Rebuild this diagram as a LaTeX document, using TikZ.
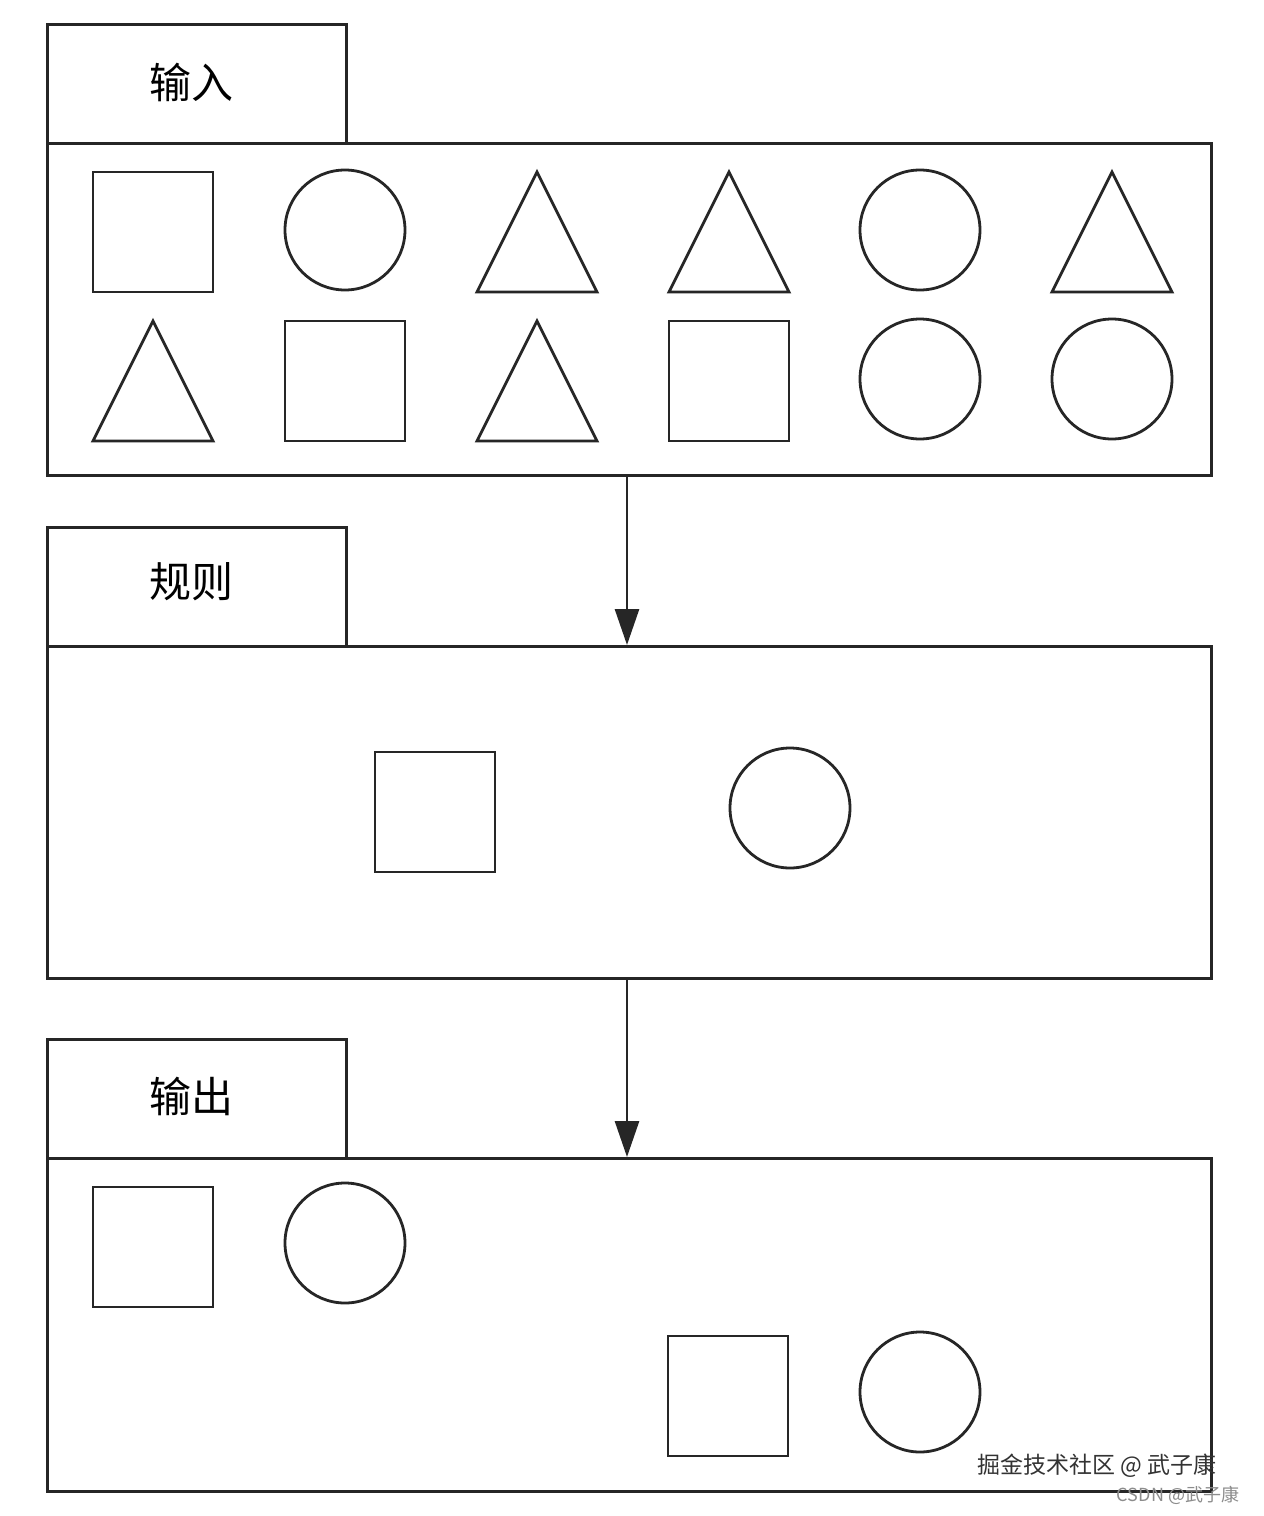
\documentclass[tikz,border=0pt]{standalone}
\usepackage{fontspec}
\newfontfamily\cjk{Noto Sans CJK SC}
\usetikzlibrary{arrows.meta}
\begin{document}
\begin{tikzpicture}[x=1pt,y=-1pt,
  ln/.style={line width=2.8pt,draw=black!85},
  panel/.style={ln,draw,rectangle,anchor=north west,inner sep=0pt},
  sq/.style={ln,draw,rectangle,minimum size=120pt,inner sep=0pt},
  ci/.style={ln,draw,circle,minimum size=120pt,inner sep=0pt},
  lbl/.style={font=\cjk\fontsize{42pt}{44pt}\selectfont},
  conn/.style={ln,-{Triangle[length=36pt,width=24pt]}}]
\useasboundingbox[fill=white] (0,0) rectangle (1264,1516);
\newcommand{\tri}[2]{\draw[ln,line join=miter] (#1-60,#2+60) -- (#1,#2-60) -- (#1+60,#2+60) -- cycle;}
% panels
\node[panel,minimum width=299pt,minimum height=119pt] (t1) at (46,23) {};
\node[panel,minimum width=1164pt,minimum height=332pt] (b1) at (46,142) {};
\node[panel,minimum width=299pt,minimum height=119pt] (t2) at (46,526) {};
\node[panel,minimum width=1164pt,minimum height=332pt] (b2) at (46,645) {};
\node[panel,minimum width=299pt,minimum height=119pt] (t3) at (46,1038) {};
\node[panel,minimum width=1164pt,minimum height=333pt] (b3) at (46,1157) {};
\node[lbl] (l1) at (191,82) {输入};
\node[lbl] (l2) at (191,582) {规则};
\node[lbl] (l3) at (191,1096) {输出};
% input shapes
\node[sq] (a1) at (153,232) {};
\node[ci] (a2) at (345,230) {};
\tri{537}{232}
\tri{729}{232}
\node[ci] (a5) at (920,230) {};
\tri{1112}{232}
\tri{153}{381}
\node[sq] (b2s) at (345,381) {};
\tri{537}{381}
\node[sq] (b4) at (729,381) {};
\node[ci] (b5) at (920,379) {};
\node[ci] (b6) at (1112,379) {};
% rule shapes
\node[sq] (r1) at (435,812) {};
\node[ci] (r2) at (790,808) {};
% output shapes
\node[sq] (o1) at (153,1247) {};
\node[ci] (o2) at (345,1243) {};
\node[sq] (o3) at (728,1396) {};
\node[ci] (o4) at (920,1392) {};
% arrows
\coordinate (p1) at (627,474); \coordinate (q1) at (627,645);
\coordinate (p2) at (627,977); \coordinate (q2) at (627,1157);
\draw[conn] (p1) -- (q1);
\draw[conn] (p2) -- (q2);
% watermarks
\node[font=\cjk\fontsize{23pt}{25pt}\selectfont,text=black!80] (w1) at (1097,1466) {掘金技术社区 @ 武子康};
\node[font=\cjk\fontsize{18pt}{20pt}\selectfont,text=black!45] (w2) at (1178,1495) {CSDN @武子康};
\end{tikzpicture}
\end{document}
